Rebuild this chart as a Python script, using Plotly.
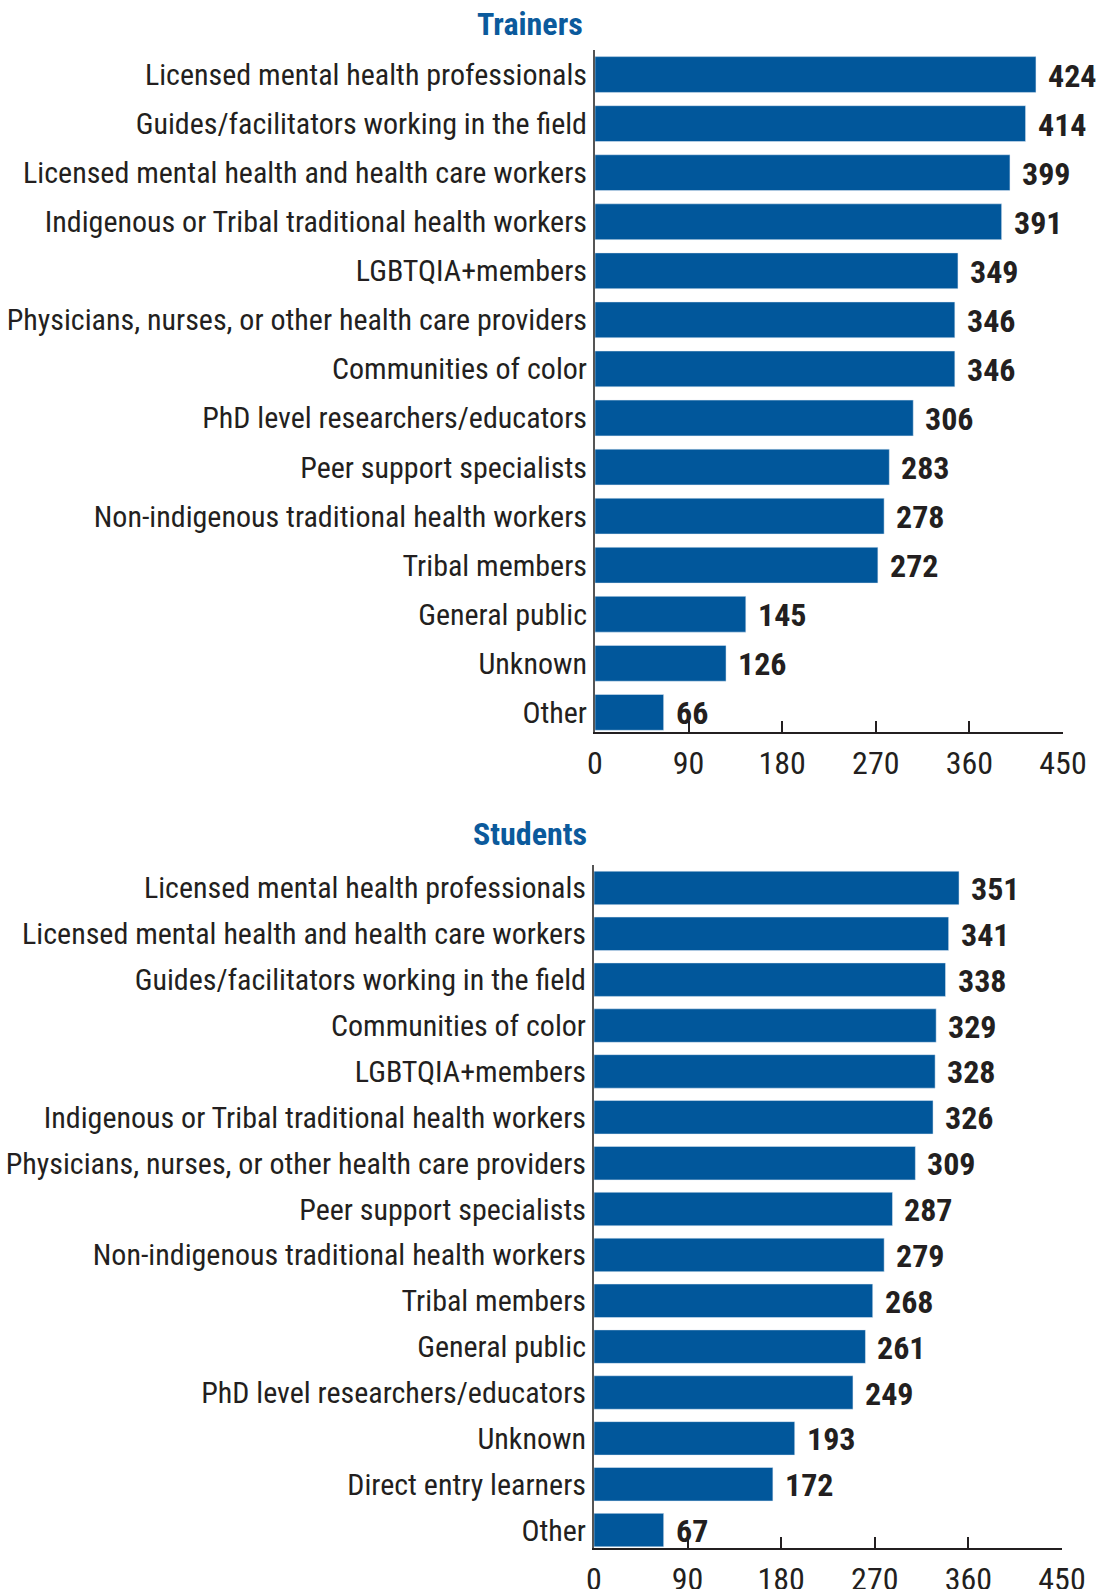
import plotly.graph_objects as go

trainer_categories = [
    "Licensed mental health professionals",
    "Guides/facilitators working in the field",
    "Licensed mental health and health care workers",
    "Indigenous or Tribal traditional health workers",
    "LGBTQIA+members",
    "Physicians, nurses, or other health care providers",
    "Communities of color",
    "PhD level researchers/educators",
    "Peer support specialists",
    "Non-indigenous traditional health workers",
    "Tribal members",
    "General public",
    "Unknown",
    "Other",
]
trainer_values = [424, 414, 399, 391, 349, 346, 346, 306, 283, 278, 272, 145, 126, 66]

student_categories = [
    "Licensed mental health professionals",
    "Licensed mental health and health care workers",
    "Guides/facilitators working in the field",
    "Communities of color",
    "LGBTQIA+members",
    "Indigenous or Tribal traditional health workers",
    "Physicians, nurses, or other health care providers",
    "Peer support specialists",
    "Non-indigenous traditional health workers",
    "Tribal members",
    "General public",
    "PhD level researchers/educators",
    "Unknown",
    "Direct entry learners",
    "Other",
]
student_values = [351, 341, 338, 329, 328, 326, 309, 287, 279, 268, 261, 249, 193, 172, 67]

x_ticks = [0, 90, 180, 270, 360, 450]
titles = ["Trainers", "Students"]

W, H = 1104, 1589
FONT = "Roboto Condensed, Liberation Sans Narrow, Arial Narrow, sans-serif"
BAR = "#01579B"
TITLE_C = "#0B5A9C"
TEXT = "#231F20"

def py(px):
    return 1 - px / H

fig = go.Figure()
fig.add_trace(go.Bar(x=trainer_values, y=trainer_categories, orientation="h",
                     marker_color=BAR, xaxis="x", yaxis="y", hoverinfo="x+y"))
fig.add_trace(go.Bar(x=student_values, y=student_categories, orientation="h",
                     marker_color=BAR, xaxis="x2", yaxis="y2", hoverinfo="x+y"))

annotations = []
for cats, vals, xr, yr in [(trainer_categories, trainer_values, "x", "y"),
                           (student_categories, student_values, "x2", "y2")]:
    for c, v in zip(cats, vals):
        annotations.append(dict(x=v, y=c, xref=xr, yref=yr, text=str(v), showarrow=False,
                                xanchor="left", yanchor="middle", xshift=10, yshift=-1,
                                font=dict(family=FONT, size=32, color=TEXT, weight="bold")))

for t, ypx in zip(titles, [24, 834]):
    annotations.append(dict(x=530 / W, y=py(ypx), xref="paper", yref="paper", text=t,
                            showarrow=False, xanchor="center", yanchor="middle",
                            font=dict(family=FONT, size=32, color=TITLE_C, weight="bold")))

xaxis_common = dict(range=[0, 450], tickvals=x_ticks, ticks="inside", ticklen=11, tickwidth=2,
                    tickcolor=TEXT, showline=True, linecolor=TEXT, linewidth=2,
                    showgrid=False, zeroline=False, fixedrange=True, automargin=False,
                    ticklabelstandoff=2,
                    tickfont=dict(family=FONT, size=32, color=TEXT))
yaxis_common = dict(showline=True, linecolor="#555555", linewidth=2,
                    showgrid=False, ticks="", ticklabelstandoff=0, automargin=False,
                    fixedrange=True,
                    tickfont=dict(family=FONT, size=30, color=TEXT))

fig.update_layout(
    width=W, height=H,
    margin=dict(l=0, r=0, t=0, b=0),
    paper_bgcolor="white", plot_bgcolor="white",
    showlegend=False, bargap=0.27,
    xaxis=dict(domain=[595 / W, 1063 / W], anchor="y", **xaxis_common),
    yaxis=dict(domain=[py(732), py(50)], anchor="x",
               range=[len(trainer_categories) - 0.6, -0.5], **yaxis_common),
    xaxis2=dict(domain=[594 / W, 1062 / W], anchor="y2", **xaxis_common),
    yaxis2=dict(domain=[py(1548), py(865)], anchor="x2",
                range=[len(student_categories) - 0.61, -0.5], **yaxis_common),
    annotations=annotations,
)

fig.write_html("out.html", post_script="document.body.style.margin='0';",
               config={"displayModeBar": False})
